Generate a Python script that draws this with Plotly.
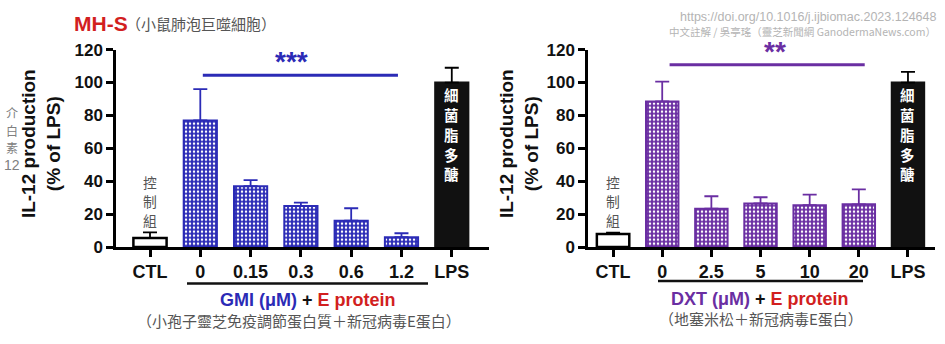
import plotly.graph_objects as go

# ---- data ----
gmi_labels = ["CTL", "0", "0.15", "0.3", "0.6", "1.2", "LPS"]
gmi_ctl = 5.5
gmi_ctl_err = 3.5
gmi_vals = [77, 37, 25, 16, 6]
gmi_err = [19, 3.7, 2, 7.6, 2.4]
gmi_lps = 100
gmi_lps_err = 9

dxt_labels = ["CTL", "0", "2.5", "5", "10", "20", "LPS"]
dxt_ctl = 8
dxt_ctl_err = 0.7
dxt_vals = [88.5, 23.3, 26.5, 25.5, 26]
dxt_err = [12, 7.6, 3.8, 6.4, 9.1]
dxt_lps = 100
dxt_lps_err = 6.5

y_ticks = [0, 20, 40, 60, 80, 100, 120]

ctl_chars = ["控", "制", "組"]
lps_chars = ["細", "菌", "脂", "多", "醣"]
il12_chars = ["介", "白", "素"]

W, H = 945, 344
BLUE = "#2b2bb6"
PURPLE = "#6a2ea2"
RED = "#d21f1f"
GRAY = "#555555"
LAT = "Liberation Sans, Arial, sans-serif"
CJK = "Noto Sans CJK TC, sans-serif"


def px(x):
    return x / W


def py(y):
    return 1 - y / H


fig = go.Figure()


def add_panel(xa, ya, labels, ctl, ctl_err, vals, err, lps, lps_err, color):
    bw = 0.66
    fig.add_trace(go.Bar(
        x=[labels[0]], y=[ctl], width=bw, xaxis=xa, yaxis=ya,
        marker=dict(color="white", line=dict(color="black", width=2.5)),
        error_y=dict(type="data", symmetric=False, array=[ctl_err], arrayminus=[0],
                     color="black", thickness=1.8, width=7),
        showlegend=False, hoverinfo="skip"))
    fig.add_trace(go.Bar(
        x=labels[1:6], y=vals, width=bw, xaxis=xa, yaxis=ya,
        marker=dict(color=color, line=dict(color=color, width=2),
                    pattern=dict(shape=".", fgcolor="white", bgcolor=color,
                                 size=4, solidity=0.3, fillmode="replace")),
        error_y=dict(type="data", symmetric=False, array=err, arrayminus=[0] * len(err),
                     color=color, thickness=1.8, width=7),
        showlegend=False, hoverinfo="skip"))
    fig.add_trace(go.Bar(
        x=[labels[6]], y=[lps], width=bw, xaxis=xa, yaxis=ya,
        marker=dict(color="#111111", line=dict(color="#111111", width=2)),
        error_y=dict(type="data", symmetric=False, array=[lps_err], arrayminus=[0],
                     color="black", thickness=1.8, width=7),
        showlegend=False, hoverinfo="skip"))


add_panel("x", "y", gmi_labels, gmi_ctl, gmi_ctl_err, gmi_vals, gmi_err, gmi_lps, gmi_lps_err, BLUE)
add_panel("x2", "y2", dxt_labels, dxt_ctl, dxt_ctl_err, dxt_vals, dxt_err, dxt_lps, dxt_lps_err, PURPLE)

ydom = [py(252), py(43)]
xcommon = dict(type="category", showline=True, linecolor="black", linewidth=2.5,
               ticks="outside", ticklen=7, tickwidth=2.5, tickcolor="black",
               tickfont=dict(family=LAT, size=18, color="#111111", weight="bold"),
               showgrid=False, zeroline=False, fixedrange=True)
ycommon = dict(range=[0, 120], tickvals=y_ticks, showline=True, linecolor="black",
               linewidth=2.5, ticks="outside", ticklen=7, tickwidth=2.5, tickcolor="black",
               tickfont=dict(family=LAT, size=17, color="#111111", weight="bold"),
               showgrid=False, zeroline=False, domain=ydom, fixedrange=True)

fig.update_layout(
    width=W, height=H, margin=dict(l=0, r=0, t=0, b=0),
    paper_bgcolor="white", plot_bgcolor="white", barmode="overlay",
    xaxis=dict(xcommon, domain=[px(116), px(489)], range=[-0.676, 6.74],
               categoryorder="array", categoryarray=gmi_labels, anchor="y"),
    yaxis=dict(ycommon, anchor="x"),
    xaxis2=dict(xcommon, domain=[px(588), px(935)], range=[-0.51, 6.55],
                categoryorder="array", categoryarray=dxt_labels, anchor="y2"),
    yaxis2=dict(ycommon, anchor="x2"),
)

shapes = []
# significance lines
shapes.append(dict(type="line", xref="x", yref="y", x0=1.05, x1=4.93, y0=104.4, y1=104.4,
                   line=dict(color=BLUE, width=3)))
shapes.append(dict(type="line", xref="x2", yref="y2", x0=1.15, x1=5.12, y0=110.8, y1=110.8,
                   line=dict(color=PURPLE, width=3)))
# treatment group brackets under the category labels
shapes.append(dict(type="line", xref="paper", yref="paper", x0=px(187), x1=px(428),
                   y0=py(290.5), y1=py(290.5), line=dict(color="#111111", width=2.5)))
shapes.append(dict(type="line", xref="paper", yref="paper", x0=px(658), x1=px(863),
                   y0=py(288), y1=py(288), line=dict(color="#111111", width=2.5)))
fig.update_layout(shapes=shapes)

ann = []


def text(x, y, s, size, color, family=LAT, bold=False, xanchor="center", yanchor="middle",
         angle=0, xref="paper", yref="paper"):
    ann.append(dict(x=x, y=y, xref=xref, yref=yref, text=s, showarrow=False,
                    xanchor=xanchor, yanchor=yanchor, textangle=angle,
                    font=dict(family=family, size=size, color=color,
                              weight="bold" if bold else "normal")))


# header
text(px(72), py(15), "MH-S", 21, RED, bold=True, xanchor="left")
text(px(124), py(15), "（小鼠肺泡巨噬細胞）", 15, GRAY, family=CJK, xanchor="left")
text(px(938), py(8), "https://doi.org/10.1016/j.ijbiomac.2023.124648", 12.5, "#b4b4b4",
     xanchor="right")
text(px(938), py(24), "中文註解 / 吳亭瑤（靈芝新聞網 GanodermaNews.com）", 10.5, "#b4b4b4",
     family=CJK, xanchor="right")

# y titles
text(px(41), py(143), "IL-12 production<br>(% of LPS)", 19, "#111111", bold=True, angle=-90)
text(px(519), py(143), "IL-12 production<br>(% of LPS)", 19, "#111111", bold=True, angle=-90)
for i, ch in enumerate(il12_chars):
    text(px(12), py(110 + 18.3 * i), ch, 12, "#808080", family=CJK)
text(px(12), py(165.5), "12", 14, "#808080")

# stars
text(2.82, 112.5, "***", 28, BLUE, bold=True, xref="x", yref="y")
text(3.3, 119, "**", 28, PURPLE, bold=True, xref="x2", yref="y2")

# vertical labels on the control and LPS bars
for xr, yr in (("x", "y"), ("x2", "y2")):
    for i, ch in enumerate(ctl_chars):
        text(0, 39.5 - 11.4 * i, ch, 13.8, GRAY, family=CJK, xref=xr, yref=yr)
    for i, ch in enumerate(lps_chars):
        text(6, 92.5 - 12 * i, ch, 14.5, "white", family=CJK, bold=True, xref=xr, yref=yr)

# group captions
text(px(308), py(308),
     f"<span style='color:{BLUE}'>GMI (μM)</span> + <span style='color:{RED}'>E protein</span>",
     18, "#111111", bold=True)
text(px(299), py(330), "（小孢子靈芝免疫調節蛋白質＋新冠病毒E蛋白）", 15, GRAY, family=CJK)
text(px(760), py(307),
     f"<span style='color:{PURPLE}'>DXT (μM)</span> + <span style='color:{RED}'>E protein</span>",
     18, "#111111", bold=True)
text(px(761), py(328), "（地塞米松＋新冠病毒E蛋白）", 15, GRAY, family=CJK)

fig.update_layout(annotations=ann)

fig.write_html("out.html")
